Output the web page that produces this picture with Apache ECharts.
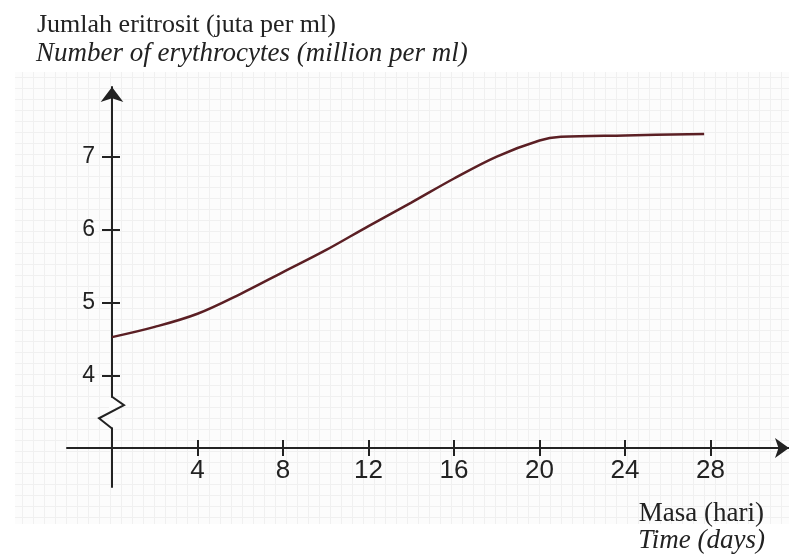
<!DOCTYPE html>
<html>
<head>
<meta charset="utf-8">
<script src="https://cdn.jsdelivr.net/npm/echarts@6/dist/echarts.min.js"></script>
<style>
  html, body { margin: 0; padding: 0; background: #fff; }
  #main { width: 789px; height: 558px; }
</style>
</head>
<body>
<div id="main"></div>
<script>
// data
var days = [0, 2, 4, 6, 8, 10, 12, 14, 16, 18, 20, 21, 24, 27.7];
var cells = [4.53, 4.67, 4.85, 5.12, 5.42, 5.72, 6.05, 6.37, 6.70, 7.00, 7.22, 7.27, 7.29, 7.31];
var xTicks = [4, 8, 12, 16, 20, 24, 28];
var yTicks = [4, 5, 6, 7];

var chartDom = document.getElementById('main');
var myChart = echarts.init(chartDom);

// faint grid-paper texture
var tex = document.createElement('canvas');
tex.width = 11; tex.height = 11;
var tc = tex.getContext('2d');
tc.fillStyle = '#fcfcfc';
tc.fillRect(0, 0, 11, 11);
tc.strokeStyle = '#f0f0f0';
tc.lineWidth = 1;
tc.beginPath();
tc.moveTo(0, 0.5); tc.lineTo(11, 0.5);
tc.moveTo(0.5, 0); tc.lineTo(0.5, 11);
tc.stroke();

var axisColor = '#222';
var points = days.map(function (d, i) { return [d, cells[i]]; });

var xMin = -2.105, xMax = 31.67;
var yMin = 2.48, yMax = 7.952;

var option = {
  backgroundColor: '#fff',
  animation: false,
  grid: { left: 67, right: 0, top: 87, bottom: 71 },
  xAxis: [
    {
      type: 'value',
      min: xMin,
      max: xMax,
      position: 'bottom',
      offset: -39,
      splitLine: { show: false },
      axisLine: {
        onZero: false,
        lineStyle: { color: axisColor, width: 2 },
        symbol: ['none', 'arrow'],
        symbolSize: [15, 14]
      },
      axisTick: { customValues: xTicks, length: 8, lineStyle: { color: axisColor, width: 2 } },
      axisLabel: {
        customValues: xTicks,
        margin: 10,
        fontSize: 26,
        color: '#222',
        fontFamily: 'Liberation Sans'
      }
    },
    {
      type: 'value',
      min: xMin,
      max: xMax,
      position: 'bottom',
      offset: -39,
      splitLine: { show: false },
      axisLine: { show: false, onZero: false },
      axisTick: { customValues: xTicks, inside: true, length: 8, lineStyle: { color: axisColor, width: 2 } },
      axisLabel: { show: false }
    }
  ],
  yAxis: [
    {
      type: 'value',
      min: yMin,
      max: yMax,
      position: 'left',
      splitLine: { show: false },
      axisLine: {
        onZero: true,
        lineStyle: { color: axisColor, width: 2 },
        symbol: ['none', 'arrow'],
        symbolSize: [17, 15]
      },
      axisTick: { customValues: yTicks, length: 10, lineStyle: { color: axisColor, width: 2 } },
      axisLabel: { show: false }
    },
    {
      type: 'value',
      min: yMin,
      max: yMax,
      position: 'left',
      offset: -45,
      splitLine: { show: false },
      axisLine: { show: false, onZero: false },
      axisTick: { customValues: yTicks, inside: true, length: 8, lineStyle: { color: axisColor, width: 2 } },
      axisLabel: {
        customValues: yTicks,
        margin: 17,
        fontSize: 23,
        color: '#222',
        fontFamily: 'Liberation Sans'
      }
    }
  ],
  series: [
    {
      type: 'line',
      data: points,
      smooth: 0.35,
      showSymbol: false,
      lineStyle: { color: '#5b1f24', width: 2.5 },
      z: 5
    }
  ]
};
myChart.setOption(option);

// axis break zigzag on the y axis, placed through the axes
var p0 = myChart.convertToPixel({ gridIndex: 0 }, [0, 3.715]);
var p3 = myChart.convertToPixel({ gridIndex: 0 }, [0, 3.28]);
var pa = myChart.convertToPixel({ gridIndex: 0 }, [0, 3.60]);
var pb = myChart.convertToPixel({ gridIndex: 0 }, [0, 3.42]);

myChart.setOption({
  graphic: [
    {
      type: 'rect', z: -10, silent: true,
      shape: { x: 15, y: 72, width: 774, height: 452 },
      style: { fill: { image: tex, repeat: 'repeat' } }
    },
    {
      type: 'rect', z: 50, silent: true,
      shape: { x: p0[0] - 3, y: p0[1] + 1, width: 6, height: p3[1] - p0[1] - 2 },
      style: { fill: '#fcfcfc' }
    },
    {
      type: 'polyline', z: 51, silent: true,
      shape: { points: [p0, [pa[0] + 12, pa[1]], [pb[0] - 13, pb[1]], p3] },
      style: { stroke: axisColor, lineWidth: 2, fill: null }
    },
    {
      type: 'text', left: 37, top: 12, silent: true,
      style: { text: 'Jumlah eritrosit (juta per ml)', font: '26px "Liberation Serif"', fill: '#222' }
    },
    {
      type: 'text', left: 36, top: 40, silent: true,
      style: { text: 'Number of erythrocytes (million per ml)', font: 'italic 27px "Liberation Serif"', fill: '#222' }
    },
    {
      type: 'text', right: 25, top: 500, silent: true,
      style: { text: 'Masa (hari)', font: '27px "Liberation Serif"', fill: '#222' }
    },
    {
      type: 'text', right: 24, top: 527, silent: true,
      style: { text: 'Time (days)', font: 'italic 27px "Liberation Serif"', fill: '#222' }
    }
  ]
});

window.onresize = function () {
  myChart.resize();
};
</script>
</body>
</html>
